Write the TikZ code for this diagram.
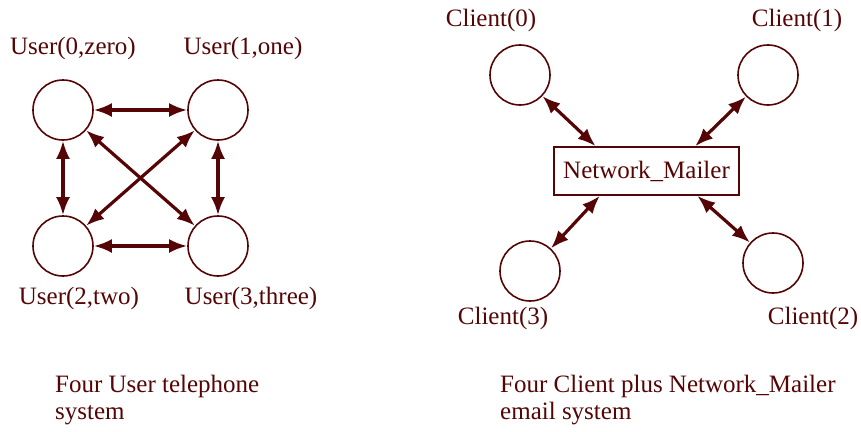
\documentclass[tikz,border=0pt]{standalone}
\usepackage{fontspec}
\setmainfont{Liberation Serif}
\usetikzlibrary{arrows.meta}
\definecolor{maroonink}{RGB}{85,5,5}

\begin{document}
\begin{tikzpicture}[x=1pt,y=-1pt,color=maroonink,
                       font=\fontsize{25}{27}\selectfont,
                       main node/.style={circle,draw,line width=1.6pt,minimum size=60pt,inner sep=0pt},
                       box node/.style={rectangle,draw,line width=1.6pt,minimum width=185pt,minimum height=48pt,inner sep=0pt},
                       tag/.style={inner sep=0pt},
                       link/.style={{Latex[length=18pt,width=14pt]}-{Latex[length=18pt,width=14pt]},line width=3.2pt}
                      ]
  \useasboundingbox (0,0) rectangle (861,431);

  % four user telephone system
  \node[main node] (u0) at (63,110) {};
  \node[main node] (u1) at (218,110) {};
  \node[main node] (u2) at (63,246) {};
  \node[main node] (u3) at (218,246) {};
  \node[tag] (l0) at (73,48) {User(0,zero)};
  \node[tag] (l1) at (243,48) {User(1,one)};
  \node[tag] (l2) at (79,298) {User(2,two)};
  \node[tag] (l3) at (251,298) {User(3,three)};

  \path[link]
   (u0) edge (u1)
   (u0) edge (u2)
   (u1) edge (u3)
   (u2) edge (u3)
   (u0) edge (u3)
   (u1) edge (u2);

  % four client plus network mailer
  \node[box node] (nm) at (646.5,171) {Network\_Mailer};
  \node[main node] (c0) at (520,75) {};
  \node[main node] (c1) at (768,75) {};
  \node[main node] (c2) at (773,263) {};
  \node[main node] (c3) at (530,271) {};
  \node[tag] (k0) at (491,20) {Client(0)};
  \node[tag] (k1) at (797,20) {Client(1)};
  \node[tag] (k2) at (813,318) {Client(2)};
  \node[tag] (k3) at (503,318) {Client(3)};

  \path[link]
   (c0) edge (nm.154)
   (c1) edge (nm.27)
   (c2) edge (nm.334)
   (c3) edge (nm.208);

  % captions
  \node[tag,anchor=north west,align=left] (t0) at (55,375) {Four User telephone\\system};
  \node[tag,anchor=north west,align=left] (t1) at (500,375) {Four Client plus Network\_Mailer\\email system};
\end{tikzpicture}
\end{document}
